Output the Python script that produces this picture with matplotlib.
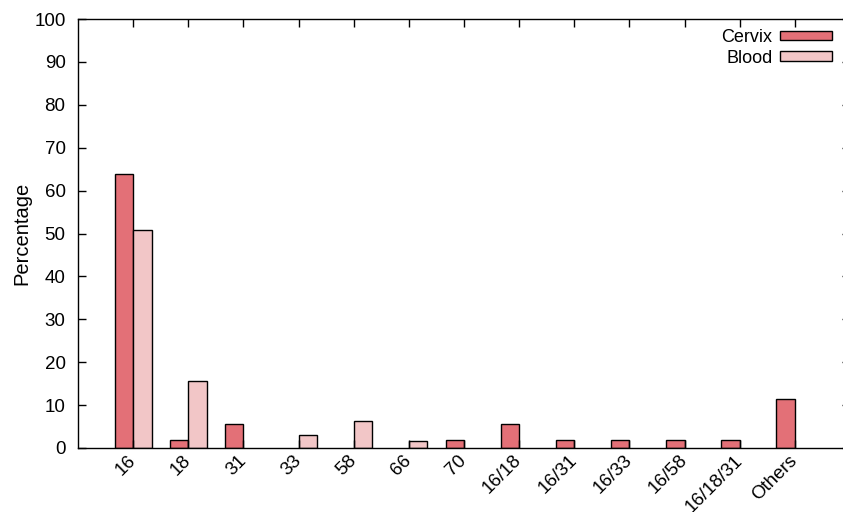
import numpy as np
import matplotlib
matplotlib.use("Agg")
import matplotlib.pyplot as plt

# HPV型別の検出割合
hpv_types = ["16", "18", "31", "33", "58", "66", "70",
             "16/18", "16/31", "16/33", "16/58", "16/18/31", "Others"]
cervix = [63.8, 1.9, 5.6, np.nan, np.nan, np.nan, 1.9, 5.6, 1.9, 1.9, 1.9, 1.9, 11.4]
blood = [50.8, 15.6, np.nan, 3.1, 6.2, 1.6, np.nan, np.nan, np.nan, np.nan,
         np.nan, np.nan, np.nan]

plt.rcParams["font.family"] = ["Liberation Sans", "DejaVu Sans"]

fig = plt.figure(figsize=(8.43, 5.12), dpi=100)
ax = fig.add_axes([78 / 843, 64 / 512, (850 - 78) / 843, 429 / 512])

x = np.arange(len(hpv_types))
w = 1 / 3
ax.bar(x - w / 2, cervix, w, color="#E37077", edgecolor="black", linewidth=1.0,
       label="Cervix")
ax.bar(x + w / 2, blood, w, color="#F2C6C7", edgecolor="black", linewidth=1.0,
       label="Blood")

ax.set_xlim(-1, 13)
ax.set_ylim(0, 100)
ax.set_yticks(np.arange(0, 101, 10))
ax.set_xticks(x)
ax.set_xticklabels(hpv_types, rotation=45, ha="right", va="center",
                   rotation_mode="anchor")
ax.tick_params(axis="both", direction="in", length=6, width=1,
               labelsize=13.5, top=True, right=True)
ax.tick_params(axis="y", pad=9)
ax.tick_params(axis="x", pad=7)
for s in ax.spines.values():
    s.set_linewidth(1.0)

ax.set_ylabel("Percentage", fontsize=14.5, labelpad=2)

ax.legend(loc="upper right", bbox_to_anchor=(832 / 843, 1 - 29 / 512),
          bbox_transform=fig.transFigure,
          frameon=False, markerfirst=False, fontsize=13, handlelength=2.9,
          handleheight=0.45, labelspacing=0.2, handletextpad=0.4,
          borderaxespad=0.0, borderpad=0.0)

fig.savefig("out.png", dpi=100)
